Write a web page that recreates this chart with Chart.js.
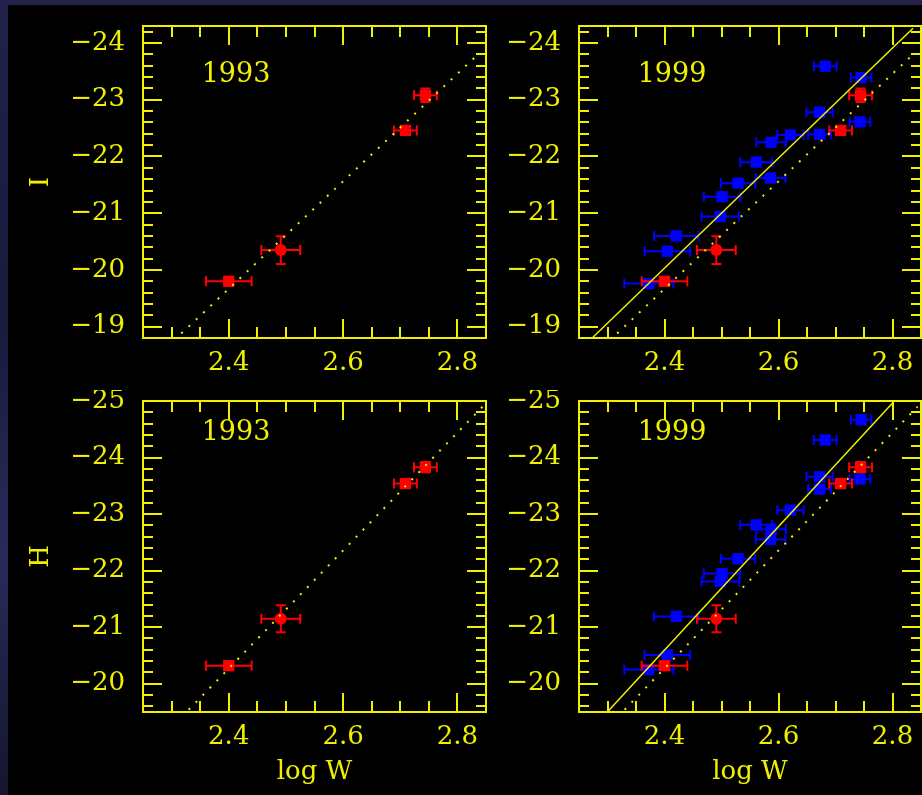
<!DOCTYPE html>
<html>
<head>
<meta charset="utf-8">
<script src="https://cdn.jsdelivr.net/npm/chart.js@4.4.1/dist/chart.umd.min.js"></script>
<style>
  html, body { margin: 0; padding: 0; width: 922px; height: 795px; overflow: hidden;
    background: linear-gradient(180deg, #22224a 0%, #1a1a3c 40%, #2a2a5a 70%, #15152e 100%); }
  #black { position: absolute; left: 8px; top: 5px; width: 914px; height: 790px; background: #000; }
  canvas { position: absolute; }
</style>
</head>
<body>
<div id="black"></div>
<canvas id="cIa" width="490" height="390" style="left:0px;top:0px"></canvas>
<canvas id="cIb" width="432" height="390" style="left:490px;top:0px"></canvas>
<canvas id="cHa" width="490" height="405" style="left:0px;top:390px"></canvas>
<canvas id="cHb" width="432" height="405" style="left:490px;top:390px"></canvas>
<script>
// ---------------- data ----------------
const xTickValues = [2.4, 2.6, 2.8];
const xTickLabels = ['2.4', '2.6', '2.8'];
const iTickValues = [-24, -23, -22, -21, -20, -19];
const iTickLabels = ['\u221224', '\u221223', '\u221222', '\u221221', '\u221220', '\u221219'];
const hTickValues = [-25, -24, -23, -22, -21, -20];
const hTickLabels = ['\u221225', '\u221224', '\u221223', '\u221222', '\u221221', '\u221220'];

// 1993 sample (red)
const red_logW     = [2.400, 2.491, 2.709, 2.744];
const red_logW_err = [0.040, 0.034, 0.020, 0.020];
const red_I        = [-19.80, -20.35, -22.46, -23.08];
const red_I_err    = [0.04, 0.245, 0.05, 0.12];
const red_H        = [-20.32, -21.15, -23.54, -23.83];
const red_H_err    = [0.05, 0.24, 0.06, 0.09];

// 1999 sample (blue)
const blue_logW     = [2.682, 2.745, 2.672, 2.743, 2.672, 2.621, 2.587, 2.561, 2.586, 2.529, 2.501, 2.498, 2.4205, 2.405, 2.3725];
const blue_logW_err = [0.020, 0.018, 0.023, 0.018, 0.020, 0.023, 0.026, 0.028, 0.026, 0.030, 0.032, 0.033, 0.039, 0.040, 0.043];
const blue_I        = [-23.59, -23.39, -22.78, -22.61, -22.39, -22.38, -22.25, -21.90, -21.62, -21.53, -21.29, -20.94, -20.60, -20.33, -19.76];
const blue_H        = [-24.31, -24.67, -23.66, -23.62, -23.44, -23.07, -22.73, -22.81, -22.55, -22.21, -21.95, -21.81, -21.19, -20.51, -20.25];
const blue_mag_err  = [0.06, 0.06, 0.06, 0.06, 0.06, 0.06, 0.06, 0.06, 0.06, 0.06, 0.06, 0.06, 0.06, 0.06, 0.06];

// fitted relations (segment end points)
const fit93_I_logW = [2.317, 2.834];
const fit93_I_mag  = [-18.88, -23.78];
const fit99_I_logW = [2.274, 2.836];
const fit99_I_mag  = [-18.81, -24.26];
const fit93_H_logW = [2.330, 2.844];
const fit93_H_mag  = [-19.54, -24.90];
const fit99_H_logW = [2.3005, 2.8005];
const fit99_H_mag  = [-19.51, -24.97];

const years = ['1993', '1999'];

// ---------------- style ----------------
const YELLOW = '#f0f000';
const RED = '#ff0000';
const BLUE = '#0000ff';
const FONT = 'DejaVu Serif';

const pts = (xs, ys) => xs.map((v, i) => ({ x: v, y: ys[i] }));

const framePlugin = {
  id: 'pgframe',
  beforeDatasetsDraw(chart) {
    const { ctx, chartArea: a, scales: { x, y } } = chart;
    ctx.save();
    ctx.strokeStyle = YELLOW;
    ctx.lineWidth = 2;
    ctx.strokeRect(a.left, a.top, a.right - a.left, a.bottom - a.top);
    ctx.beginPath();
    for (let k = Math.ceil(x.min / 0.05 - 1e-6); k * 0.05 <= x.max + 1e-9; k++) {
      const len = (k % 4 === 0) ? 19 : 11;
      const px = Math.round(x.getPixelForValue(k * 0.05));
      ctx.moveTo(px, a.bottom); ctx.lineTo(px, a.bottom - len);
      ctx.moveTo(px, a.top); ctx.lineTo(px, a.top + len);
    }
    for (let k = Math.ceil(y.min / 0.2 - 1e-6); k * 0.2 <= y.max + 1e-9; k++) {
      const len = (k % 5 === 0) ? 19 : 10;
      const py = Math.round(y.getPixelForValue(k * 0.2));
      ctx.moveTo(a.left, py); ctx.lineTo(a.left + len, py);
      ctx.moveTo(a.right, py); ctx.lineTo(a.right - len, py);
    }
    ctx.stroke();
    ctx.restore();
  }
};

const errPlugin = {
  id: 'errbars',
  beforeDatasetDraw(chart, args) {
    const ds = chart.data.datasets[args.index];
    if (!ds.xErr && !ds.yErr) return;
    const { ctx, scales: { x, y } } = chart;
    const cap = 5;
    ctx.save();
    ctx.strokeStyle = ds.borderColor;
    ctx.lineWidth = 2;
    ctx.beginPath();
    ds.data.forEach((p, i) => {
      const px = x.getPixelForValue(p.x), py = y.getPixelForValue(p.y);
      if (ds.xErr) {
        const x0 = x.getPixelForValue(p.x - ds.xErr[i]), x1 = x.getPixelForValue(p.x + ds.xErr[i]);
        ctx.moveTo(x0, py); ctx.lineTo(x1, py);
        ctx.moveTo(x0, py - cap); ctx.lineTo(x0, py + cap);
        ctx.moveTo(x1, py - cap); ctx.lineTo(x1, py + cap);
      }
      if (ds.yErr) {
        const y0 = y.getPixelForValue(p.y - ds.yErr[i]), y1 = y.getPixelForValue(p.y + ds.yErr[i]);
        ctx.moveTo(px, y0); ctx.lineTo(px, y1);
        ctx.moveTo(px - cap, y0); ctx.lineTo(px + cap, y0);
        ctx.moveTo(px - cap, y1); ctx.lineTo(px + cap, y1);
      }
    });
    ctx.stroke();
    ctx.restore();
  }
};

const yearPlugin = {
  id: 'yearLabel',
  afterDatasetsDraw(chart, args, opts) {
    const { ctx, chartArea: a } = chart;
    ctx.save();
    ctx.fillStyle = YELLOW;
    ctx.font = opts.size + 'px "' + FONT + '"';
    ctx.textAlign = 'center';
    ctx.textBaseline = 'middle';
    ctx.fillText(opts.text, a.left + opts.dx, a.top + opts.dy);
    ctx.restore();
  }
};

function zeroPad(s) {
  s.paddingTop = 0; s.paddingBottom = 0; s.paddingLeft = 0; s.paddingRight = 0;
}

function makePanel(id, p) {
  const datasets = [];
  datasets.push({
    data: pts(p.fit93x, p.fit93y), showLine: true, pointRadius: 0,
    borderColor: YELLOW, borderWidth: 2, borderDash: [2, 8]
  });
  if (p.fit99x) {
    datasets.push({
      data: pts(p.fit99x, p.fit99y), showLine: true, pointRadius: 0,
      borderColor: YELLOW, borderWidth: 1.5
    });
  }
  datasets.push({
    data: pts(red_logW, p.redMag), xErr: red_logW_err, yErr: p.redErr,
    borderColor: RED, backgroundColor: RED, borderWidth: 0,
    pointStyle: ['rect', 'circle', 'rect', 'rect'], pointRadius: [8, 6, 8, 8]
  });
  if (p.blueMag) {
    datasets.push({
      data: pts(blue_logW, p.blueMag), xErr: blue_logW_err, yErr: blue_mag_err,
      borderColor: BLUE, backgroundColor: BLUE, borderWidth: 0,
      pointStyle: 'rect', pointRadius: 8
    });
  }
  return new Chart(document.getElementById(id), {
    type: 'scatter',
    data: { datasets },
    options: {
      responsive: false, animation: false, devicePixelRatio: 1,
      layout: { autoPadding: false, padding: { top: p.padTop, right: p.padRight, left: 0, bottom: 0 } },
      plugins: {
        legend: { display: false }, tooltip: { enabled: false },
        yearLabel: { text: p.year, dx: 93, dy: p.yearDy, size: 27 }
      },
      scales: {
        x: {
          type: 'linear', min: 2.25, max: 2.85,
          afterBuildTicks: s => { s.ticks = xTickValues.map(v => ({ value: v })); },
          afterFit: s => { s.height = p.xAxisH; zeroPad(s); },
          grid: { display: false, drawTicks: false }, border: { display: false },
          ticks: { color: YELLOW, font: { family: FONT, size: 26 }, padding: 10,
                   maxRotation: 0, autoSkip: false, callback: (v, i) => xTickLabels[i] },
          title: { display: p.showXTitle, text: 'log W', color: YELLOW,
                   font: { family: FONT, size: 26 }, padding: { top: 0, bottom: 7 } }
        },
        y: {
          type: 'linear', min: p.ymin, max: p.ymax, reverse: true,
          afterBuildTicks: s => { s.ticks = p.yTicks.map(v => ({ value: v })); },
          afterFit: s => { s.width = p.yAxisW; zeroPad(s); },
          grid: { display: false, drawTicks: false }, border: { display: false },
          ticks: { color: YELLOW, font: { family: FONT, size: 26 }, padding: 18,
                   autoSkip: false, callback: (v, i) => p.yLabels[i] },
          title: { display: !!p.yTitle, text: p.yTitle || '', color: YELLOW,
                   font: { family: FONT, size: 26 }, padding: { top: 26, bottom: 0 } }
        }
      }
    },
    plugins: [framePlugin, errPlugin, yearPlugin]
  });
}

makePanel('cIa', { year: years[0], yTitle: 'I', ymin: -24.3, ymax: -18.8, yTicks: iTickValues, yLabels: iTickLabels,
  redMag: red_I, redErr: red_I_err, fit93x: fit93_I_logW, fit93y: fit93_I_mag,
  padTop: 26, padRight: 4, yAxisW: 143, xAxisH: 52, showXTitle: false, yearDy: 49 });
makePanel('cIb', { year: years[1], ymin: -24.3, ymax: -18.8, yTicks: iTickValues, yLabels: iTickLabels,
  redMag: red_I, redErr: red_I_err, blueMag: blue_I, fit93x: fit93_I_logW, fit93y: fit93_I_mag,
  fit99x: fit99_I_logW, fit99y: fit99_I_mag,
  padTop: 26, padRight: 1, yAxisW: 89, xAxisH: 52, showXTitle: false, yearDy: 49 });
makePanel('cHa', { year: years[0], yTitle: 'H', ymin: -25, ymax: -19.5, yTicks: hTickValues, yLabels: hTickLabels,
  redMag: red_H, redErr: red_H_err, fit93x: fit93_H_logW, fit93y: fit93_H_mag,
  padTop: 11, padRight: 4, yAxisW: 143, xAxisH: 83, showXTitle: true, yearDy: 31.5 });
makePanel('cHb', { year: years[1], ymin: -25, ymax: -19.5, yTicks: hTickValues, yLabels: hTickLabels,
  redMag: red_H, redErr: red_H_err, blueMag: blue_H, fit93x: fit93_H_logW, fit93y: fit93_H_mag,
  fit99x: fit99_H_logW, fit99y: fit99_H_mag,
  padTop: 11, padRight: 1, yAxisW: 89, xAxisH: 83, showXTitle: true, yearDy: 31.5 });
</script>
</body>
</html>
